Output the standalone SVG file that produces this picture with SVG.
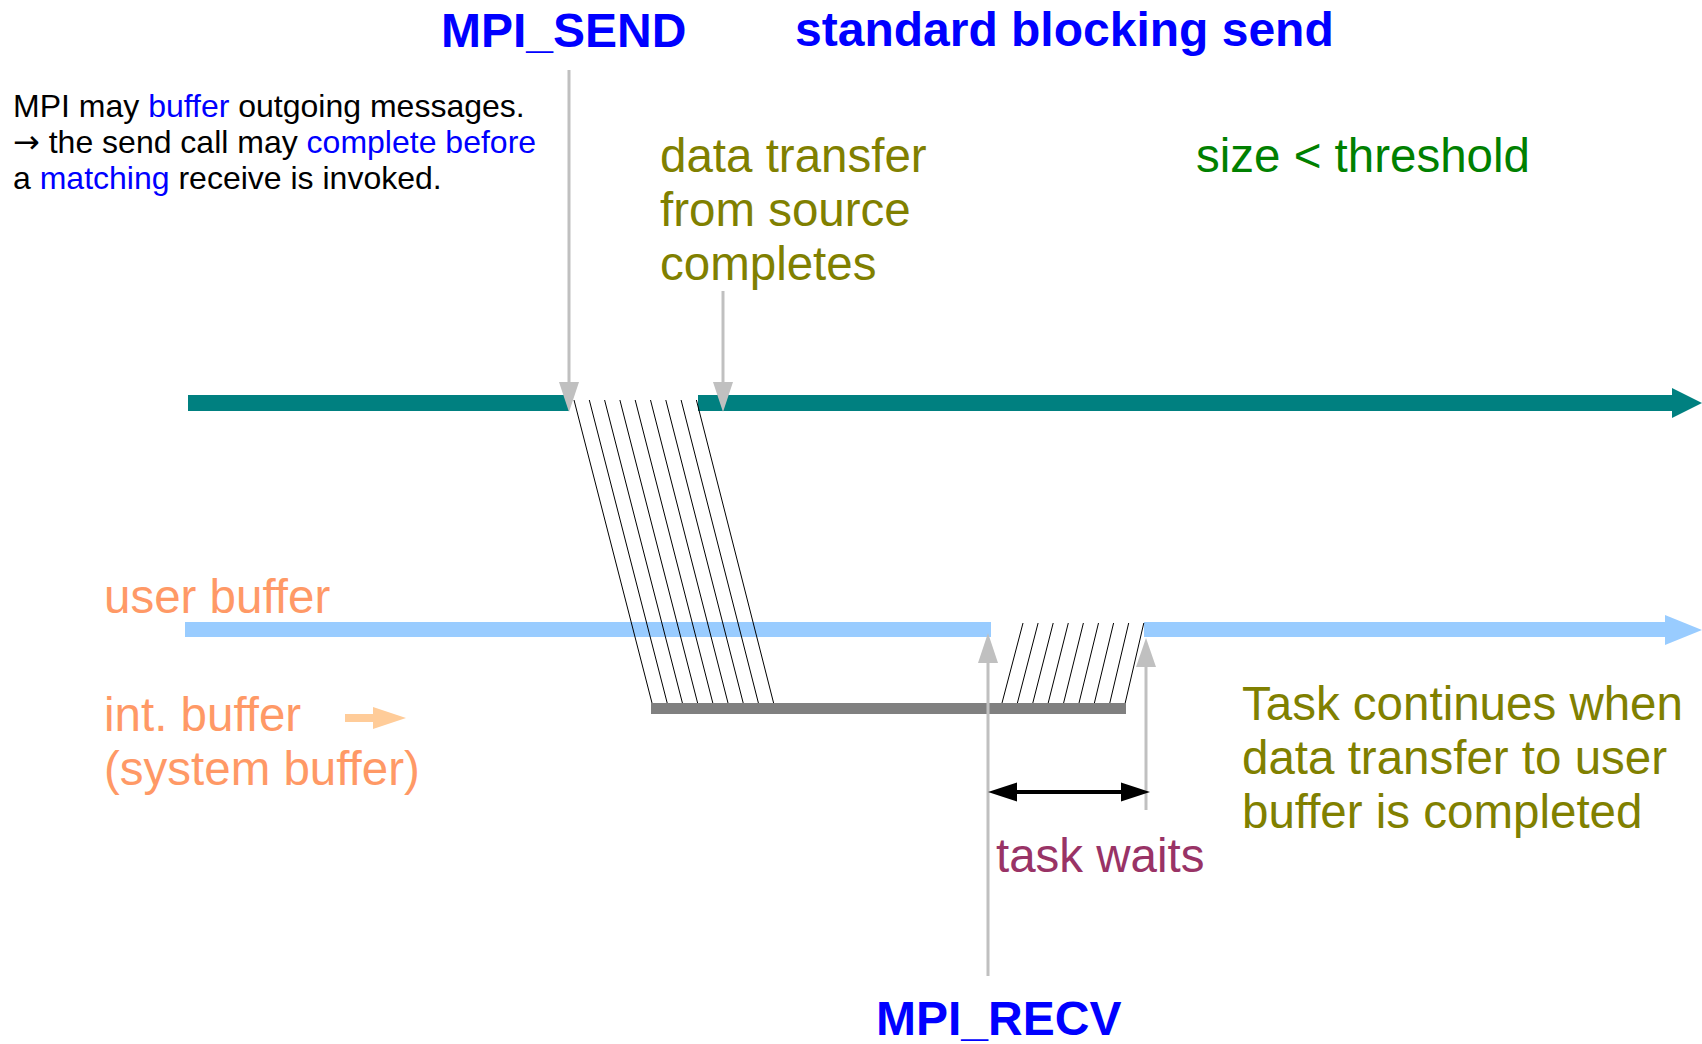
<svg xmlns="http://www.w3.org/2000/svg" width="1702" height="1044" viewBox="0 0 1702 1044">
<style>
text{font-family:"Liberation Sans",Arial,sans-serif}
.title{font-size:48px;font-weight:bold;fill:#0000ff}
.note{font-size:32px;fill:#000}
.arr{font-family:"DejaVu Sans",sans-serif}
.blue{fill:#0000ff}
.olive{font-size:47.5px;fill:#808000}
.green{font-size:47.5px;fill:#008000}
.salmon{font-size:47.5px;fill:#ff9966}
.wait{font-size:47.5px;fill:#993366}
.gl{stroke:#c0c0c0;stroke-width:3;fill:none}
.gh{fill:#c0c0c0}
.hatch{stroke:#000;stroke-width:1}
</style>
<rect width="1702" height="1044" fill="#fff"/>
<g id="titles">
<text class="title" x="441" y="47">MPI_SEND</text>
<text class="title" x="795" y="46">standard blocking send</text>
<text class="title" x="876" y="1035">MPI_RECV</text>
</g>
<g id="note">
<text class="note" x="13" y="117">MPI may <tspan class="blue">buffer</tspan> outgoing messages.</text>
<text class="note" x="13" y="153"><tspan class="arr">→</tspan> the send call may <tspan class="blue">complete before</tspan></text>
<text class="note" x="13" y="189">a <tspan class="blue">matching</tspan> receive is invoked.</text>
</g>
<g id="sender-line">
<rect x="188" y="395" width="381" height="16" fill="#008080"/>
<rect x="698" y="395" width="975" height="16" fill="#008080"/>
<polygon points="1672,388 1672,418 1702,403" fill="#008080"/>
</g>
<g id="user-buffer">
<rect x="185" y="622" width="806" height="15" fill="#99ccff"/>
<rect x="1144" y="622" width="522" height="15" fill="#99ccff"/>
<polygon points="1665,615 1665,645 1702,630" fill="#99ccff"/>
</g>
<g id="int-buffer">
<rect x="651" y="703" width="475" height="11" fill="#808080"/>
</g>
<g id="hatch-send" class="hatch">
<line x1="574" y1="400" x2="652" y2="703"/>
<line x1="589.3" y1="400" x2="667.2" y2="703"/>
<line x1="604.6" y1="400" x2="682.4" y2="703"/>
<line x1="619.9" y1="400" x2="697.6" y2="703"/>
<line x1="635.2" y1="400" x2="712.8" y2="703"/>
<line x1="650.5" y1="400" x2="728" y2="703"/>
<line x1="665.8" y1="400" x2="743.2" y2="703"/>
<line x1="681.1" y1="400" x2="758.4" y2="703"/>
<line x1="696.4" y1="400" x2="773.6" y2="703"/>
</g>
<g id="hatch-recv" class="hatch">
<line x1="1002" y1="703" x2="1023" y2="623"/>
<line x1="1017.4" y1="703" x2="1038.1" y2="623"/>
<line x1="1032.8" y1="703" x2="1053.2" y2="623"/>
<line x1="1048.2" y1="703" x2="1068.3" y2="623"/>
<line x1="1063.6" y1="703" x2="1083.4" y2="623"/>
<line x1="1079" y1="703" x2="1098.5" y2="623"/>
<line x1="1094.4" y1="703" x2="1113.6" y2="623"/>
<line x1="1109.8" y1="703" x2="1128.7" y2="623"/>
<line x1="1125.2" y1="703" x2="1143.8" y2="623"/>
</g>
<g id="connectors">
<line class="gl" x1="569" y1="70" x2="569" y2="386"/>
<polygon class="gh" points="559,382 579,382 569,412"/>
<line class="gl" x1="723" y1="291" x2="723" y2="386"/>
<polygon class="gh" points="713,382 733,382 723,412"/>
<line class="gl" x1="988" y1="976" x2="988" y2="660"/>
<polygon class="gh" points="978,663 998,663 988,633"/>
<line class="gl" x1="1146" y1="810" x2="1146" y2="664"/>
<polygon class="gh" points="1136,667 1156,667 1146,638"/>
<line x1="1012" y1="792" x2="1126" y2="792" stroke="#000" stroke-width="4"/>
<polygon points="988,792 1017,782.5 1017,801.5" fill="#000"/>
<polygon points="1150,792 1121,782.5 1121,801.5" fill="#000"/>
<line x1="345" y1="718" x2="375" y2="718" stroke="#ffcc99" stroke-width="8"/>
<polygon points="373,707 406,718 373,729" fill="#ffcc99"/>
</g>
<g id="labels">
<text class="olive" x="660" y="172">data transfer</text>
<text class="olive" x="660" y="226">from source</text>
<text class="olive" x="660" y="280">completes</text>
<text class="green" x="1196" y="172">size &lt; threshold</text>
<text class="salmon" x="104" y="613">user buffer</text>
<text class="salmon" x="104" y="731">int. buffer</text>
<text class="salmon" x="104" y="785">(system buffer)</text>
<text class="olive" x="1242" y="720">Task continues when</text>
<text class="olive" x="1242" y="774">data transfer to user</text>
<text class="olive" x="1242" y="828">buffer is completed</text>
<text class="wait" x="996" y="872">task waits</text>
</g>
</svg>
